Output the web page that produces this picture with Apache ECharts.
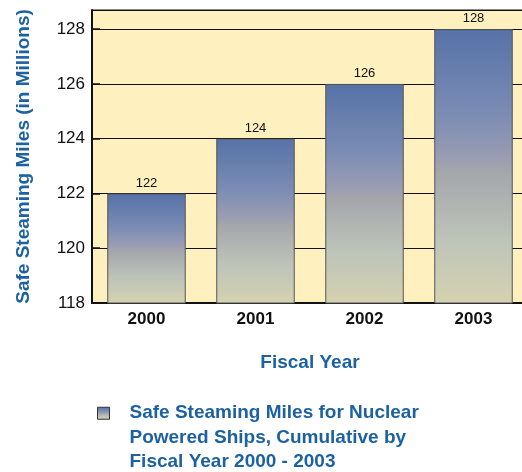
<!DOCTYPE html>
<html>
<head>
<meta charset="utf-8">
<script src="https://cdn.jsdelivr.net/npm/echarts@6/dist/echarts.min.js"></script>
<style>
  html, body { margin: 0; padding: 0; background: #ffffff; }
  #chart { width: 522px; height: 472px; }
</style>
</head>
<body>
<div id="chart"></div>
<script>
// fiscal years on the x axis
const years = ['2000', '2001', '2002', '2003'];
// cumulative safe steaming miles, millions
const miles = [122, 124, 126, 128];
const seriesName = 'Safe Steaming Miles for Nuclear\nPowered Ships, Cumulative by\nFiscal Year 2000 - 2003';

const blue = '#1c61a2';
const chart = echarts.init(document.getElementById('chart'));

const barGradient = new echarts.graphic.LinearGradient(0, 0, 0, 1, [
  { offset: 0, color: '#5672a7' },
  { offset: 0.3, color: '#7a8bb4' },
  { offset: 0.47, color: '#9a9cb3' },
  { offset: 0.52, color: '#a4a6ab' },
  { offset: 0.76, color: '#bcc3b9' },
  { offset: 1, color: '#d5d2b0' }
]);

chart.setOption({
  animation: false,
  textStyle: { fontFamily: 'Liberation Sans, Arial, sans-serif' },
  grid: {
    left: 92,
    right: -6,
    top: 10,
    bottom: 169,
    outerBoundsMode: 'none',
    show: true,
    backgroundColor: '#fef0bf',
    borderColor: '#111',
    borderWidth: 1
  },
  legend: {
    left: 92,
    top: 347,
    icon: 'rect',
    itemWidth: 12,
    itemHeight: 12,
    itemStyle: { borderColor: '#333', borderWidth: 1 },
    // two leading blank lines keep the box aligned with the first text line
    formatter: name => '\n\n' + name,
    textStyle: {
      color: blue,
      fontSize: 19,
      fontWeight: 'bold',
      lineHeight: 24.5,
      padding: [0, 0, 0, 15]
    },
    data: [seriesName]
  },
  xAxis: {
    type: 'category',
    data: years,
    name: 'Fiscal Year',
    nameLocation: 'middle',
    nameGap: 50,
    nameTextStyle: { color: blue, fontSize: 19, fontWeight: 'bold' },
    axisLine: { lineStyle: { color: '#111', width: 2 } },
    axisTick: { inside: true, length: 5, lineStyle: { color: '#111', width: 1.5 } },
    axisLabel: { color: '#111', fontSize: 17, fontWeight: 'bold', margin: 8 }
  },
  yAxis: {
    type: 'value',
    min: 118,
    max: 128.7,
    interval: 2,
    name: 'Safe Steaming Miles (in Millions)',
    nameLocation: 'middle',
    nameGap: 59,
    nameTextStyle: { color: blue, fontSize: 19, fontWeight: 'bold' },
    axisLine: { show: true, lineStyle: { color: '#111', width: 2 } },
    axisTick: { show: true, inside: true, length: 8, lineStyle: { color: '#111', width: 1.5 } },
    axisLabel: { color: '#111', fontSize: 17, margin: 7, showMaxLabel: false },
    splitLine: { show: true, lineStyle: { color: '#111', width: 1 } }
  },
  series: [{
    name: seriesName,
    type: 'bar',
    data: miles,
    barWidth: '72%',
    itemStyle: { color: barGradient, borderColor: '#555', borderWidth: 1 },
    label: { show: true, position: 'top', color: '#111', fontSize: 13, distance: 4 }
  }]
});
</script>
</body>
</html>
